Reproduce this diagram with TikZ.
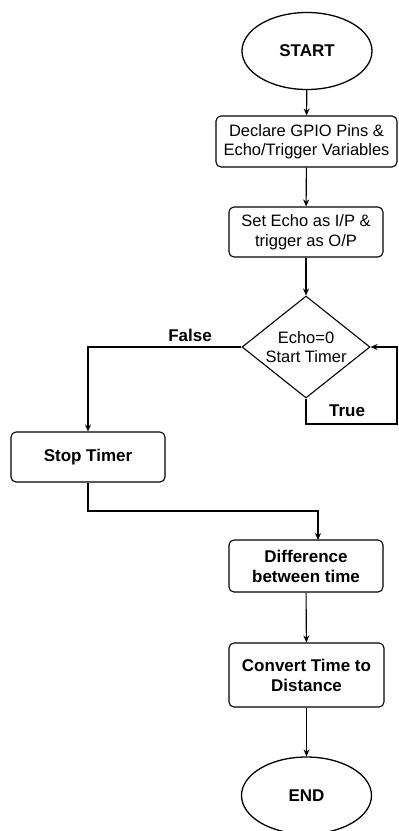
\documentclass[tikz,border=0pt]{standalone}
\usepackage{fontspec}
\setmainfont{Liberation Sans}
\usetikzlibrary{arrows.meta,shapes.geometric}
\begin{document}
\begin{tikzpicture}[x=1pt,y=-1pt,
  regf/.style={font=\fontsize{16.5}{19.5}\selectfont},
  boldf/.style={font=\fontsize{17}{20}\selectfont\bfseries},
  term/.style={draw,line width=1.3pt,ellipse,minimum width=130pt,minimum height=77pt,inner sep=0pt,boldf},
  proc/.style={draw,line width=1.1pt,rounded corners=5pt,inner sep=0pt,align=center,regf},
  dec/.style={draw,line width=1.1pt,diamond,aspect=1.25,minimum width=128pt,minimum height=102pt,inner sep=0pt,align=center,regf},
  conn/.style={line width=1.1pt,-{Stealth[length=7pt,width=6pt]}},
  lab/.style={boldf}]
\useasboundingbox (0,0) rectangle (399,831);
\node[term] (start) at (307,51) {START};
\node[proc,minimum width=181pt,minimum height=51pt] (decl) at (306.5,141.5) {Declare GPIO Pins \&\\Echo/Trigger Variables};
\node[proc,minimum width=154pt,minimum height=50pt] (set) at (306,232) {Set Echo as I/P \&\\trigger as O/P};
\node[dec] (dec) at (306,347) {Echo=0\\Start Timer};
\node[proc,minimum width=154pt,minimum height=50pt,boldf] (stop) at (88,457) {Stop Timer};
\node[proc,minimum width=154pt,minimum height=52pt,boldf] (diff) at (306,566) {Difference\\between time};
\node[proc,minimum width=155pt,minimum height=64pt,boldf] (conv) at (306.5,675) {Convert Time to\\Distance};
\node[term] (end) at (306.5,795.5) {END};
\coordinate (t1) at (306,424);
\coordinate (t2) at (397,424);
\coordinate (t3) at (397,347);
\coordinate (f1) at (88,347);
\coordinate (s1) at (88,511);
\coordinate (s2) at (318,511);
\coordinate (s3) at (318,540);
\draw[conn] (start) -- (decl);
\draw[conn] (decl) -- (set);
\draw[conn] (set) -- (dec);
\draw[conn] (dec.west) -- (f1) -- (stop.north);
\draw[conn] (dec.south) -- (t1) -- (t2) -- (t3) -- (dec.east);
\draw[conn] (stop.south) -- (s1) -- (s2) -- (s3);
\draw[conn] (diff) -- (conv);
\draw[conn] (conv) -- (end);
\node[lab] (false) at (190,335) {False};
\node[lab] (true) at (347,411) {True};
\end{tikzpicture}
\end{document}
